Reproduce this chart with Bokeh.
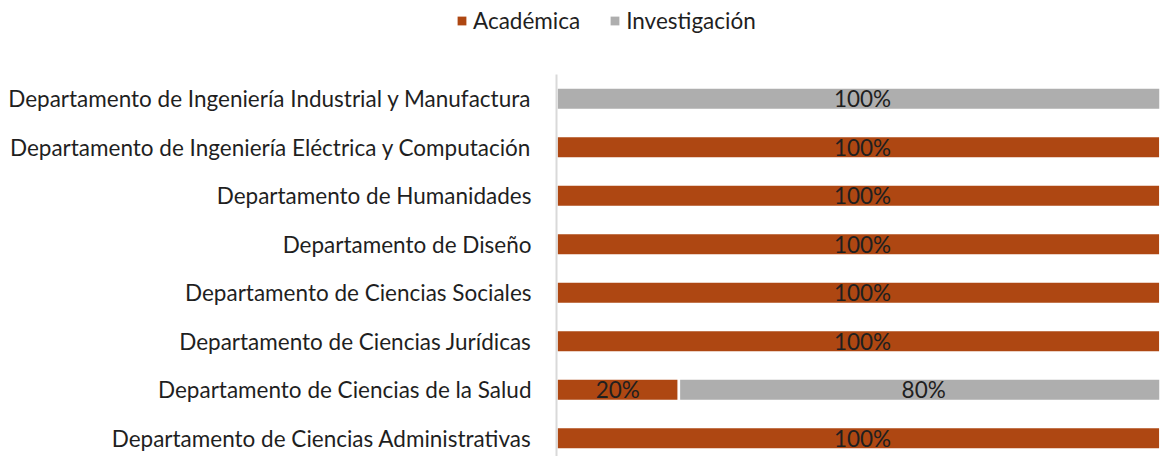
from bokeh.plotting import figure
from bokeh.models import Range1d, FixedTicker, Legend, LegendItem, ColumnDataSource
from bokeh.layouts import column
from bokeh.core.properties import value
from bokeh.embed import file_html
from bokeh.resources import INLINE

# Data (bottom to top)
departamentos = [
    "Departamento de Ciencias Administrativas",
    "Departamento de Ciencias de la Salud",
    "Departamento de Ciencias Jurídicas",
    "Departamento de Ciencias Sociales",
    "Departamento de Diseño",
    "Departamento de Humanidades",
    "Departamento de Ingeniería Eléctrica y Computación",
    "Departamento de Ingeniería Industrial y Manufactura",
]
academica = [100, 20, 100, 100, 100, 100, 100, 0]
investigacion = [0, 80, 0, 0, 0, 0, 0, 100]

series_names = ["Académica", "Investigación"]
colors = ["#AE4712", "#AEAEAE"]

FONT = "Lato"
FS = "22.5px"
TEXT_COLOR = "#1f1f1f"

W = 1160
H_LEG = 74
H_MAIN = 382

# ---- legend strip ----
leg = figure(width=W, height=H_LEG, output_backend="svg", toolbar_location=None,
             x_range=Range1d(0, 1), y_range=Range1d(0, 1),
             x_axis_location=None, y_axis_location=None,
             min_border=0, outline_line_color=None, frame_align=False)
leg.xgrid.visible = False
leg.ygrid.visible = False
# zero-size proxies that only provide legend keys
proxy = ColumnDataSource(dict(y=[0], left=[0], right=[0]))
la = leg.hbar(y="y", left="left", right="right", height=0, source=proxy,
              fill_color=colors[0], line_color=None)
li = leg.hbar(y="y", left="left", right="right", height=0, source=proxy,
              fill_color=colors[1], line_color=None)
legend = Legend(items=[LegendItem(label=series_names[0], renderers=[la]),
                       LegendItem(label=series_names[1], renderers=[li])],
                orientation="horizontal", location=(456, 40),
                glyph_width=11, glyph_height=11, label_standoff=6, spacing=29,
                padding=0, margin=0, border_line_color=None,
                background_fill_alpha=0,
                label_text_font=FONT, label_text_font_size=FS,
                label_text_color=TEXT_COLOR, label_height=20)
leg.add_layout(legend, "center")

# ---- main chart ----
p = figure(width=W, height=H_MAIN, output_backend="svg", toolbar_location=None,
           x_range=Range1d(0, 0.987), y_range=Range1d(-0.376, 7.5),
           min_border_left=556, min_border_right=0, min_border_top=0,
           min_border_bottom=0, frame_align=False)

ys = list(range(len(departamentos)))
acad_frac = [a / 100 for a in academica]
inv_frac = [v / 100 for v in investigacion]
inv_right = [a + b for a, b in zip(acad_frac, inv_frac)]

src_a = ColumnDataSource(dict(y=ys, left=[0] * len(ys), right=acad_frac))
src_i = ColumnDataSource(dict(y=ys, left=acad_frac, right=inv_right))

p.hbar(y="y", left="left", right="right", height=0.46, source=src_a,
       fill_color=colors[0], line_color="white", line_width=2.5)
p.hbar(y="y", left="left", right="right", height=0.46, source=src_i,
       fill_color=colors[1], line_color="white", line_width=2.5)

# Data labels
lx, ly, lt = [], [], []
for i in ys:
    if academica[i] > 0:
        lx.append(acad_frac[i] / 2); ly.append(i); lt.append(f"{academica[i]}%")
    if investigacion[i] > 0:
        lx.append(acad_frac[i] + inv_frac[i] / 2); ly.append(i); lt.append(f"{investigacion[i]}%")
p.text(x=lx, y=ly, text=lt, text_align="center", text_baseline="middle",
       text_font=value(FONT), text_font_size=FS, text_color=TEXT_COLOR)

# Axes
p.xaxis.visible = False
p.xgrid.visible = False
p.ygrid.visible = False
p.outline_line_color = None
yax = p.yaxis[0]
yax.ticker = FixedTicker(ticks=ys)
yax.major_label_overrides = {i: d for i, d in zip(ys, departamentos)}
yax.major_tick_line_color = None
yax.minor_tick_line_color = None
yax.axis_line_color = "#D9D9D9"
yax.axis_line_width = 2
yax.major_label_text_font = FONT
yax.major_label_text_font_size = FS
yax.major_label_text_color = TEXT_COLOR
yax.major_label_standoff = 19

layout = column(leg, p, spacing=0)
open("out.html", "w").write(file_html(layout, INLINE))
